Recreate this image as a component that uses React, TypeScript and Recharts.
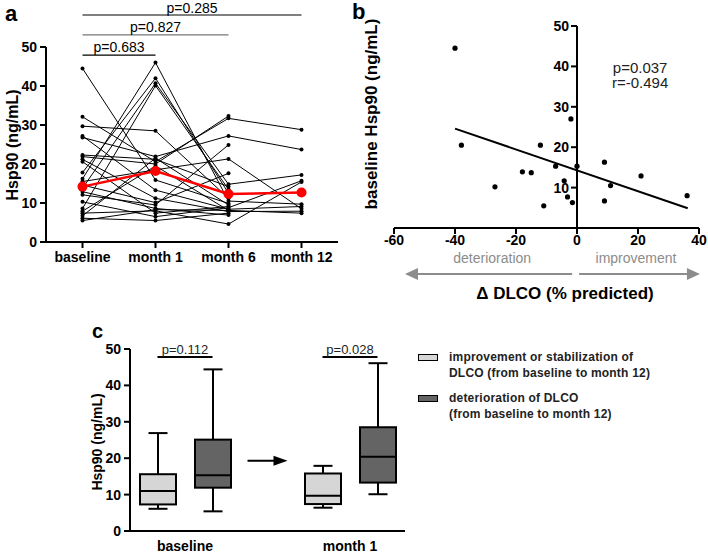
import React from "react";
import {
  Bar,
  BarChart,
  Legend,
  Line,
  LineChart,
  ReferenceDot,
  ReferenceLine,
  Scatter,
  ScatterChart,
  XAxis,
  YAxis,
} from "recharts";

const FONT = '"Liberation Sans", Arial, Helvetica, sans-serif';

// ---- panel a: Hsp90 per patient over time ----
const timepoints = ["baseline", "month 1", "month 6", "month 12"];
const hspBaseline = [44.5, 32.1, 29.7, 27.2, 26.8, 22.3, 21.9, 21.2, 20.6, 17.8, 16.2, 15.5, 14.6, 13.8, 12.9, 12.1, 10.3, 8.6, 7.9, 7.4, 6.7, 6.1, 5.5];
const hspMonth1 = [15.9, 20.6, 28.5, 13.3, 21.9, 21.2, 20.0, 11.2, 7.4, 42.0, 46.0, 18.5, 10.1, 40.7, 8.6, 9.5, 6.5, 40.1, 19.5, 8.0, 21.5, 5.5, 8.3];
const hspMonth6 = [9.9, 31.7, 11.2, 8.4, 27.2, 14.2, 32.3, 7.8, 9.1, 12.5, 10.5, 21.3, 17.6, 14.8, 6.9, 24.9, 8.8, 13.5, 8.1, 4.6, 9.5, 7.4, 8.1];
const hspMonth12 = [null, 28.8, null, 9.1, 23.7, null, null, 7.9, null, null, 9.7, 8.5, null, 17.2, null, null, 15.7, null, 7.4, 15.4, null, null, null];
const hspMedian = [14.2, 18.2, 12.3, 12.7];
const aPValues = ["p=0.683", "p=0.827", "p=0.285"];

// ---- panel b: baseline Hsp90 vs change in DLCO ----
const dlcoChange = [-40.0, -37.9, -26.9, -17.9, -15.0, -12.0, -10.9, -7.0, -4.2, -3.1, -2.0, -1.5, 0.0, 9.0, 9.0, 11.0, 21.0, 36.1];
const baselineHsp = [44.5, 20.5, 10.2, 13.9, 13.7, 20.5, 5.5, 15.3, 11.7, 7.7, 27.0, 6.3, 15.3, 16.3, 6.7, 10.5, 12.9, 8.0];
const fitX = [-40, 36.3];
const fitY = [24.6, 4.9];
const bStats = ["p=0.037", "r=-0.494"];
const bXDomain: [number, number] = [-60, 40];

// ---- panel c: box plots by DLCO course ----
const boxGroups = ["baseline", "month 1"];
// [min, q1, median, q3, max]
const improveBoxes = [
  [6.1, 7.3, 11.0, 15.6, 26.9],
  [6.4, 7.4, 9.7, 15.8, 17.9],
];
const deterBoxes = [
  [5.4, 11.9, 15.3, 25.1, 44.4],
  [10.1, 13.3, 20.4, 28.5, 46.1],
];
const cPValues = ["p=0.112", "p=0.028"];
const cLegendLabels = [
  ["improvement or stabilization of", "DLCO (from baseline to month 12)"],
  ["deterioration of DLCO", "(from baseline to month 12)"],
];

const LIGHT = "#d6d6d6";
const DARK = "#646464";

const seriesByTime = [hspBaseline, hspMonth1, hspMonth6, hspMonth12];
const aData = timepoints.map((t, i) => {
  const row: any = { t, median: hspMedian[i] };
  seriesByTime[i].forEach((v, j) => (row["p" + j] = v));
  return row;
});
const patientKeys = hspBaseline.map((_, j) => "p" + j);

const bPoints = dlcoChange.map((x, i) => ({ x, y: baselineHsp[i] }));

const cRows: any[] = [];
boxGroups.forEach((g, i) => {
  if (i > 0) cRows.push({ slot: "gap", group: "", kind: "gap", box: null, stats: null });
  cRows.push({ slot: g + "-improve", group: g, kind: "improve", box: [improveBoxes[i][1], improveBoxes[i][3]], stats: improveBoxes[i] });
  cRows.push({ slot: g + "-deter", group: g, kind: "deter", box: [deterBoxes[i][1], deterBoxes[i][3]], stats: deterBoxes[i] });
});

const axisStyle = { stroke: "#000", strokeWidth: 2 };
const tickFont = { fill: "#000", fontSize: 14, fontWeight: 700 };

const vTitle = (text: string, x: number, y: number, size: number) => () => (
  <text
    x={x}
    y={y}
    transform={`rotate(-90 ${x} ${y})`}
    textAnchor="middle"
    dominantBaseline="central"
    fontSize={size}
    fontWeight={700}
    fill="#000"
  >
    {text}
  </text>
);

// panel b geometry (y axis crosses at x = 0)
const B_YAXIS_W = 54;
const B_PLOT_W = 305;
const bAxisX = B_YAXIS_W + ((0 - bXDomain[0]) / (bXDomain[1] - bXDomain[0])) * B_PLOT_W;

function BYTick(p: any) {
  if (p.payload.value === 0) return <g />;
  return (
    <g>
      <line x1={bAxisX - 6} x2={bAxisX} y1={p.y} y2={p.y} stroke="#000" strokeWidth={2} />
      <text x={bAxisX - 8} y={p.y} dy="0.36em" textAnchor="end" fontSize={14} fontWeight={700} fill="#000">
        {p.payload.value}
      </text>
    </g>
  );
}

// panel c geometry
const C_PLOT_W = 275;
const C_BAND = C_PLOT_W / cRows.length;

function CXTick(p: any) {
  const row = cRows.find((r) => r.slot === p.payload.value);
  if (!row || row.kind !== "improve") return <g />;
  return (
    <text x={p.x + C_BAND / 2} y={p.y} dy="0.71em" textAnchor="middle" fontSize={14} fontWeight={700} fill="#000">
      {row.group}
    </text>
  );
}

function BoxShape(props: any) {
  const { x, y, width, height, payload } = props;
  if (!payload || !payload.stats || !height) return <g />;
  const [min, q1, med, q3, max] = payload.stats;
  const top = Math.min(y, y + height);
  const h = Math.abs(height);
  const ppu = h / (q3 - q1);
  const py = (v: number) => top + (q3 - v) * ppu;
  const cx = x + width / 2;
  const cap = 9.5;
  return (
    <g stroke="#000" strokeWidth={2}>
      <line x1={cx} x2={cx} y1={py(max)} y2={top} />
      <line x1={cx} x2={cx} y1={top + h} y2={py(min)} />
      <line x1={cx - cap} x2={cx + cap} y1={py(max)} y2={py(max)} />
      <line x1={cx - cap} x2={cx + cap} y1={py(min)} y2={py(min)} />
      <rect x={x} y={top} width={width} height={h} fill={payload.kind === "improve" ? LIGHT : DARK} />
      <line x1={x} x2={x + width} y1={py(med)} y2={py(med)} />
    </g>
  );
}

function CLegend() {
  const fills = [LIGHT, DARK];
  return (
    <div style={{ fontSize: 12, fontWeight: 700, color: "#222", lineHeight: "15.5px", letterSpacing: 0.2 }}>
      {cLegendLabels.map((lines, i) => (
        <div key={i} style={{ display: "flex", alignItems: "flex-start", marginBottom: 10 }}>
          <div
            style={{
              width: 18,
              height: 5,
              marginTop: 4,
              marginRight: 11,
              border: "1.5px solid #000",
              background: fills[i],
              flex: "none",
            }}
          />
          <div>
            {lines.map((l, k) => (
              <div key={k}>{l}</div>
            ))}
          </div>
        </div>
      ))}
    </div>
  );
}

const letterStyle = (left: number, top: number, size: number): React.CSSProperties => ({
  position: "absolute",
  left,
  top,
  fontSize: size,
  fontWeight: 700,
  lineHeight: 1,
});

export default function App() {
  return (
    <div style={{ position: "absolute", left: 0, top: 0, width: 708, height: 553, background: "#fff", fontFamily: FONT }}>
      {/* a */}
      <div style={{ position: "absolute", left: 0, top: 0 }}>
        <LineChart width={340} height={280} data={aData} margin={{ top: 47, right: 2, bottom: 0, left: 0 }}>
          <XAxis
            dataKey="t"
            scale="point"
            padding={{ left: 36.5, right: 36.5 }}
            height={38}
            axisLine={axisStyle}
            tickLine={axisStyle}
            tickSize={6}
            tickMargin={4}
            tick={tickFont}
            interval={0}
          />
          <YAxis
            domain={[0, 50]}
            ticks={[0, 10, 20, 30, 40, 50]}
            width={46}
            axisLine={axisStyle}
            tickLine={axisStyle}
            tickSize={6}
            tickMargin={3}
            tick={tickFont}
            label={vTitle("Hsp90 (ng/mL)", 12, 145, 16)}
          />
          {patientKeys.map((k) => (
            <Line
              key={k}
              dataKey={k}
              stroke="#000"
              strokeWidth={1}
              dot={{ r: 2, fill: "#000", stroke: "#000", strokeWidth: 0 }}
              isAnimationActive={false}
            />
          ))}
          <Line
            dataKey="median"
            stroke="#ff0000"
            strokeWidth={2.5}
            dot={{ r: 5, fill: "#ff0000", stroke: "#ff0000", strokeWidth: 0 }}
            isAnimationActive={false}
          />
          <ReferenceLine
            segment={[{ x: timepoints[0], y: 47.9 }, { x: timepoints[1], y: 47.9 }]}
            stroke="#000"
            strokeWidth={1.2}
            ifOverflow="visible"
            label={{ value: aPValues[0], position: "top", fontSize: 14, fill: "#000", offset: 3 }}
          />
          <ReferenceLine
            segment={[{ x: timepoints[0], y: 53.1 }, { x: timepoints[2], y: 53.1 }]}
            stroke="#777"
            strokeWidth={1.4}
            ifOverflow="visible"
            label={{ value: aPValues[1], position: "top", fontSize: 14, fill: "#000", offset: 3 }}
          />
          <ReferenceLine
            segment={[{ x: timepoints[0], y: 58.2 }, { x: timepoints[3], y: 58.2 }]}
            stroke="#000"
            strokeWidth={1.2}
            ifOverflow="visible"
            label={{ value: aPValues[2], position: "top", fontSize: 14, fill: "#000", offset: 2 }}
          />
        </LineChart>
      </div>

      {/* b */}
      <div style={{ position: "absolute", left: 340, top: 0 }}>
        <ScatterChart width={368} height={310} margin={{ top: 26, right: 9, bottom: 0, left: 0 }}>
          <XAxis
            type="number"
            dataKey="x"
            domain={bXDomain}
            ticks={[-60, -40, -20, 0, 20, 40]}
            height={82}
            axisLine={axisStyle}
            tickLine={axisStyle}
            tickSize={6}
            tickMargin={1}
            tick={tickFont}
            interval={0}
            label={() => (
              <text x={225} y={293} textAnchor="middle" dominantBaseline="central" fontSize={17} fontWeight={700} fill="#000">
                Δ DLCO (% predicted)
              </text>
            )}
          />
          <YAxis
            type="number"
            dataKey="y"
            domain={[0, 50]}
            ticks={[0, 10, 20, 30, 40, 50]}
            width={B_YAXIS_W}
            axisLine={false}
            tickLine={false}
            tick={BYTick}
            interval={0}
            label={vTitle("baseline Hsp90 (ng/mL)", 31, 114, 17)}
          />
          <ReferenceLine x={0} stroke="#000" strokeWidth={2} />
          <ReferenceLine
            segment={[{ x: fitX[0], y: fitY[0] }, { x: fitX[1], y: fitY[1] }]}
            stroke="#000"
            strokeWidth={2}
          />
          <Scatter
            data={bPoints}
            isAnimationActive={false}
            shape={(p: any) => <circle cx={p.cx} cy={p.cy} r={2.6} fill="#000" />}
          />
          <ReferenceDot x={20.7} y={39.8} r={0} ifOverflow="visible" label={{ value: bStats[0], position: "center", fontSize: 15, fill: "#222" }} />
          <ReferenceDot x={20.7} y={36.0} r={0} ifOverflow="visible" label={{ value: bStats[1], position: "center", fontSize: 15, fill: "#222" }} />
          <ReferenceLine
            segment={[{ x: -54, y: -11.4 }, { x: -1.6, y: -11.4 }]}
            stroke="#8c8c8c"
            strokeWidth={2}
            ifOverflow="visible"
            label={{ value: "deterioration", position: "top", fontSize: 14, fill: "#8c8c8c", offset: 11 }}
          />
          <ReferenceLine
            segment={[{ x: 0.7, y: -11.4 }, { x: 38, y: -11.4 }]}
            stroke="#8c8c8c"
            strokeWidth={2}
            ifOverflow="visible"
            label={{ value: "improvement", position: "top", fontSize: 14, fill: "#8c8c8c", offset: 11 }}
          />
          <ReferenceDot
            x={-56.4}
            y={-11.4}
            ifOverflow="visible"
            shape={(p: any) => (
              <polygon points={`${p.cx},${p.cy} ${p.cx + 13},${p.cy - 6} ${p.cx + 13},${p.cy + 6}`} fill="#8c8c8c" />
            )}
          />
          <ReferenceDot
            x={40.3}
            y={-11.4}
            ifOverflow="visible"
            shape={(p: any) => (
              <polygon points={`${p.cx},${p.cy} ${p.cx - 13},${p.cy - 6} ${p.cx - 13},${p.cy + 6}`} fill="#8c8c8c" />
            )}
          />
        </ScatterChart>
      </div>

      {/* c */}
      <div style={{ position: "absolute", left: 60, top: 310 }}>
        <BarChart width={648} height={243} data={cRows} margin={{ top: 39, right: 303, bottom: 0, left: 0 }}>
          <XAxis
            dataKey="slot"
            height={22}
            axisLine={axisStyle}
            tickLine={false}
            tickSize={0}
            tickMargin={10}
            tick={CXTick}
            interval={0}
          />
          <YAxis
            domain={[0, 50]}
            ticks={[0, 10, 20, 30, 40, 50]}
            width={70}
            axisLine={axisStyle}
            tickLine={axisStyle}
            tickSize={6}
            tickMargin={3}
            tick={tickFont}
            label={vTitle("Hsp90 (ng/mL)", 37, 132, 14)}
          />
          <Bar dataKey="box" barSize={36} shape={BoxShape} isAnimationActive={false} />
          <ReferenceLine
            segment={[{ x: cRows[0].slot, y: 47.8 }, { x: cRows[1].slot, y: 47.8 }]}
            stroke="#000"
            strokeWidth={2}
            ifOverflow="visible"
            label={{ value: cPValues[0], position: "top", fontSize: 13, fill: "#222", offset: 3 }}
          />
          <ReferenceLine
            segment={[{ x: cRows[3].slot, y: 47.8 }, { x: cRows[4].slot, y: 47.8 }]}
            stroke="#000"
            strokeWidth={2}
            ifOverflow="visible"
            label={{ value: cPValues[1], position: "top", fontSize: 13, fill: "#222", offset: 3 }}
          />
          <ReferenceDot
            x="gap"
            y={19.3}
            ifOverflow="visible"
            shape={(p: any) => (
              <g>
                <line x1={p.cx - 20} x2={p.cx + 8} y1={p.cy} y2={p.cy} stroke="#000" strokeWidth={2} />
                <polygon points={`${p.cx + 20},${p.cy} ${p.cx + 6},${p.cy - 5} ${p.cx + 6},${p.cy + 5}`} fill="#000" />
              </g>
            )}
          />
          <Legend
            layout="vertical"
            align="center"
            verticalAlign="middle"
            content={CLegend}
            wrapperStyle={{ left: 358, top: 40, width: 280, height: "auto" }}
          />
        </BarChart>
      </div>

      <div style={letterStyle(5, 3, 22)}>a</div>
      <div style={letterStyle(352, 1, 22)}>b</div>
      <div style={letterStyle(92, 321, 20)}>c</div>
    </div>
  );
}
